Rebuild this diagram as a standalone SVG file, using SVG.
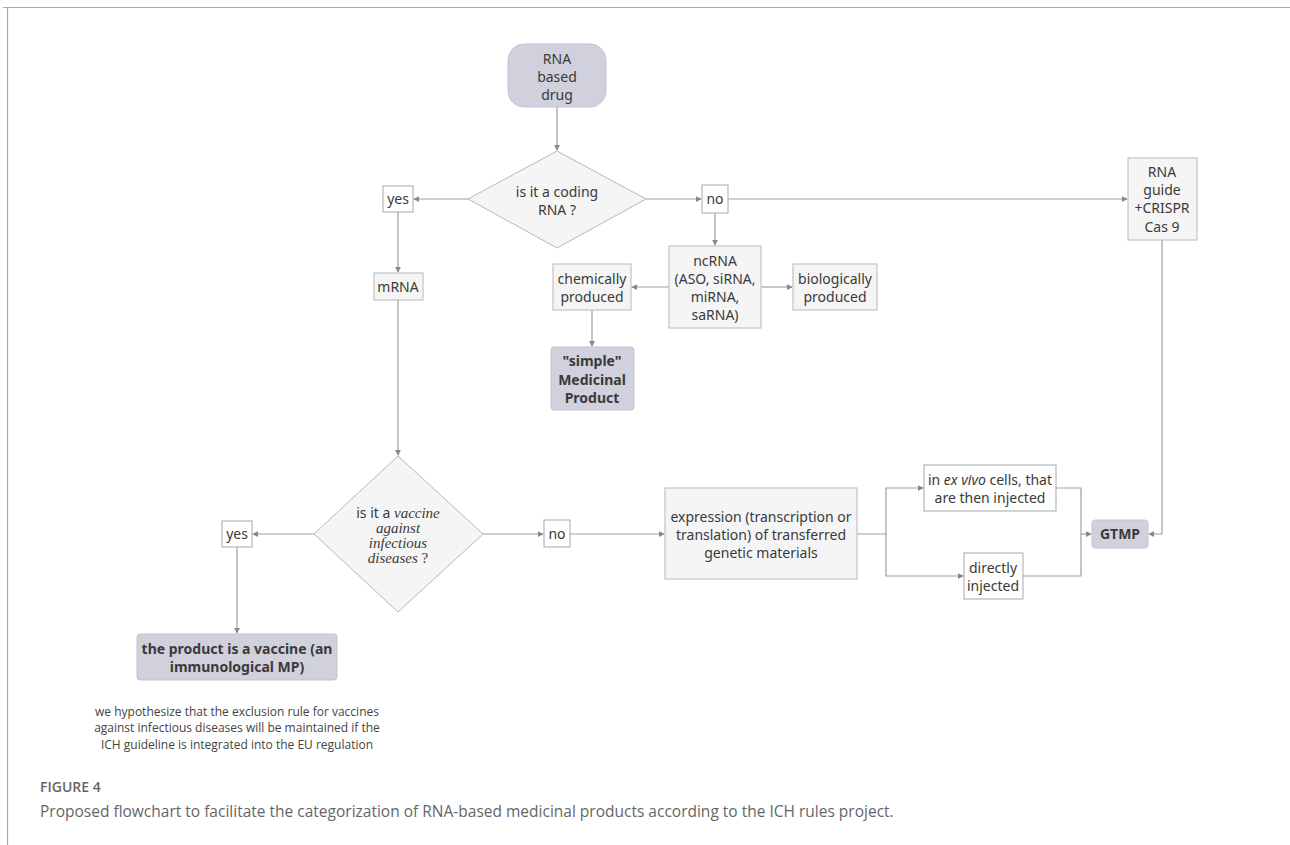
<svg xmlns="http://www.w3.org/2000/svg" width="1290" height="845" viewBox="0 0 1290 845">
  <style>
    .box { fill: #f5f5f5; stroke: #b8b8b8; stroke-width: 1; }
    .tag { fill: #ffffff; stroke: #a8a8a8; stroke-width: 1; }
    .key { fill: #d1d0dd; stroke: #c4c3d2; stroke-width: 1; }
    .t { font-family: "Noto Sans", "Open Sans", sans-serif; font-size: 14px; fill: #3a3a3a; text-anchor: middle; }
    .b { font-weight: bold; }
    .serif { font-family: "Liberation Serif", serif; font-style: italic; font-size: 15px; }
    .conn { fill: none; stroke: #a0a0a0; stroke-width: 1.2; }
    .note { font-family: "Open Sans", "Noto Sans", sans-serif; font-size: 12px; fill: #444; text-anchor: middle; }
    .cap { font-family: "Open Sans", "Noto Sans", sans-serif; fill: #666; }
  </style>
  <defs>
    <marker id="arr" viewBox="0 0 8 8" refX="7" refY="4" markerWidth="6" markerHeight="6" orient="auto" markerUnits="userSpaceOnUse">
      <path d="M0,0 L8,4 L0,8 z" fill="#888"/>
    </marker>
  </defs>

  <rect width="1290" height="845" fill="#ffffff"/>
  <!-- figure frame -->
  <path d="M3,7.5 H1290 M7.5,7.5 V845" stroke="#aaaaaa" stroke-width="1.2" fill="none"/>

  <!-- connectors -->
  <g id="connectors">
    <path class="conn" d="M557,107 V150" marker-end="url(#arr)"/>
    <path class="conn" d="M468,199 H414" marker-end="url(#arr)"/>
    <path class="conn" d="M646,199 H701" marker-end="url(#arr)"/>
    <path class="conn" d="M728,199 H1127" marker-end="url(#arr)"/>
    <path class="conn" d="M715,213 V245" marker-end="url(#arr)"/>
    <path class="conn" d="M669,287 H632" marker-end="url(#arr)"/>
    <path class="conn" d="M761,287 H792" marker-end="url(#arr)"/>
    <path class="conn" d="M592,310 V346" marker-end="url(#arr)"/>
    <path class="conn" d="M398,212 V272" marker-end="url(#arr)"/>
    <path class="conn" d="M398,300 V455" marker-end="url(#arr)"/>
    <path class="conn" d="M314,534 H253" marker-end="url(#arr)"/>
    <path class="conn" d="M237,547 V633" marker-end="url(#arr)"/>
    <path class="conn" d="M483,534 H543" marker-end="url(#arr)"/>
    <path class="conn" d="M570,534 H664" marker-end="url(#arr)"/>
    <path class="conn" d="M857,534 H886 V488 H923" marker-end="url(#arr)"/>
    <path class="conn" d="M886,534 V576 H963" marker-end="url(#arr)"/>
    <path class="conn" d="M1056,488 H1081 V576 H1023"/>
    <path class="conn" d="M1081,534 H1091" marker-end="url(#arr)"/>
    <path class="conn" d="M1162,240 V534 H1149" marker-end="url(#arr)"/>
  </g>

  <!-- nodes -->
  <g id="start">
    <rect class="key" x="508" y="44" width="98" height="63" rx="16"/>
    <text class="t" x="557" y="64">RNA</text>
    <text class="t" x="557" y="82">based</text>
    <text class="t" x="557" y="100">drug</text>
  </g>

  <g id="q-coding">
    <polygon class="box" points="557,151 646,199 557,248 468,199"/>
    <text class="t" x="557" y="197">is it a coding</text>
    <text class="t" x="557" y="215">RNA ?</text>
  </g>

  <g id="yes-coding">
    <rect class="tag" x="383" y="186" width="30" height="26"/>
    <text class="t" x="398" y="204">yes</text>
  </g>

  <g id="no-coding">
    <rect class="tag" x="702" y="185" width="26" height="28"/>
    <text class="t" x="715" y="204">no</text>
  </g>

  <g id="crispr">
    <rect class="box" x="1128" y="158" width="69" height="82"/>
    <text class="t" x="1162" y="177">RNA</text>
    <text class="t" x="1162" y="195">guide</text>
    <text class="t" x="1162" y="213">+CRISPR</text>
    <text class="t" x="1162" y="232">Cas 9</text>
  </g>

  <g id="ncrna">
    <rect class="box" x="669" y="246" width="92" height="82"/>
    <text class="t" x="715" y="266">ncRNA</text>
    <text class="t" x="715" y="284">(ASO, siRNA,</text>
    <text class="t" x="715" y="302">miRNA,</text>
    <text class="t" x="715" y="320">saRNA)</text>
  </g>

  <g id="chemical">
    <rect class="box" x="553" y="264" width="78" height="46"/>
    <text class="t" x="592" y="284">chemically</text>
    <text class="t" x="592" y="302">produced</text>
  </g>

  <g id="biological">
    <rect class="box" x="793" y="264" width="84" height="46"/>
    <text class="t" x="835" y="284">biologically</text>
    <text class="t" x="835" y="302">produced</text>
  </g>

  <g id="simple-mp">
    <rect class="key" x="551" y="347" width="83" height="63" rx="3"/>
    <text class="t b" x="592" y="366">"simple"</text>
    <text class="t b" x="592" y="385">Medicinal</text>
    <text class="t b" x="592" y="403">Product</text>
  </g>

  <g id="mrna">
    <rect class="box" x="374" y="273" width="49" height="27"/>
    <text class="t" x="398" y="292">mRNA</text>
  </g>

  <g id="q-vaccine">
    <polygon class="box" points="398,456 483,534 398,612 314,534"/>
    <text class="t" x="398" y="518"><tspan>is it a </tspan><tspan class="serif">vaccine</tspan></text>
    <text class="t serif" x="398" y="533">against</text>
    <text class="t serif" x="398" y="548">infectious</text>
    <text class="t serif" x="398" y="563">diseases <tspan font-style="normal">?</tspan></text>
  </g>

  <g id="yes-vaccine">
    <rect class="tag" x="222" y="521" width="30" height="26"/>
    <text class="t" x="237" y="539">yes</text>
  </g>

  <g id="vaccine">
    <rect class="key" x="137" y="634" width="200" height="46" rx="3"/>
    <text class="t b" x="237" y="654">the product is a vaccine (an</text>
    <text class="t b" x="237" y="672">immunological MP)</text>
  </g>

  <g id="vaccine-note">
    <text class="note" x="237" y="716">we hypothesize that the exclusion rule for vaccines</text>
    <text class="note" x="237" y="732">against infectious diseases will be maintained if the</text>
    <text class="note" x="237" y="749">ICH guideline is integrated into the EU regulation</text>
  </g>

  <g id="no-vaccine">
    <rect class="tag" x="544" y="520" width="26" height="27"/>
    <text class="t" x="557" y="539">no</text>
  </g>

  <g id="expression">
    <rect class="box" x="665" y="488" width="192" height="91"/>
    <text class="t" x="761" y="522">expression (transcription or</text>
    <text class="t" x="761" y="540">translation) of transferred</text>
    <text class="t" x="761" y="558">genetic materials</text>
  </g>

  <g id="ex-vivo">
    <rect class="tag" x="924" y="465" width="132" height="46"/>
    <text class="t" x="990" y="485">in <tspan font-style="italic">ex vivo</tspan> cells, that</text>
    <text class="t" x="990" y="503">are then injected</text>
  </g>

  <g id="direct">
    <rect class="tag" x="964" y="553" width="59" height="46"/>
    <text class="t" x="993" y="573">directly</text>
    <text class="t" x="993" y="591">injected</text>
  </g>

  <g id="gtmp">
    <rect class="key" x="1092" y="520" width="56" height="28" rx="3"/>
    <text class="t b" x="1120" y="539">GTMP</text>
  </g>

  <!-- caption -->
  <text class="cap" x="40" y="792" font-size="14" font-weight="600" fill="#555">FIGURE 4</text>
  <text class="cap" x="40" y="817" font-size="15.5">Proposed flowchart to facilitate the categorization of RNA-based medicinal products according to the ICH rules project.</text>
</svg>
